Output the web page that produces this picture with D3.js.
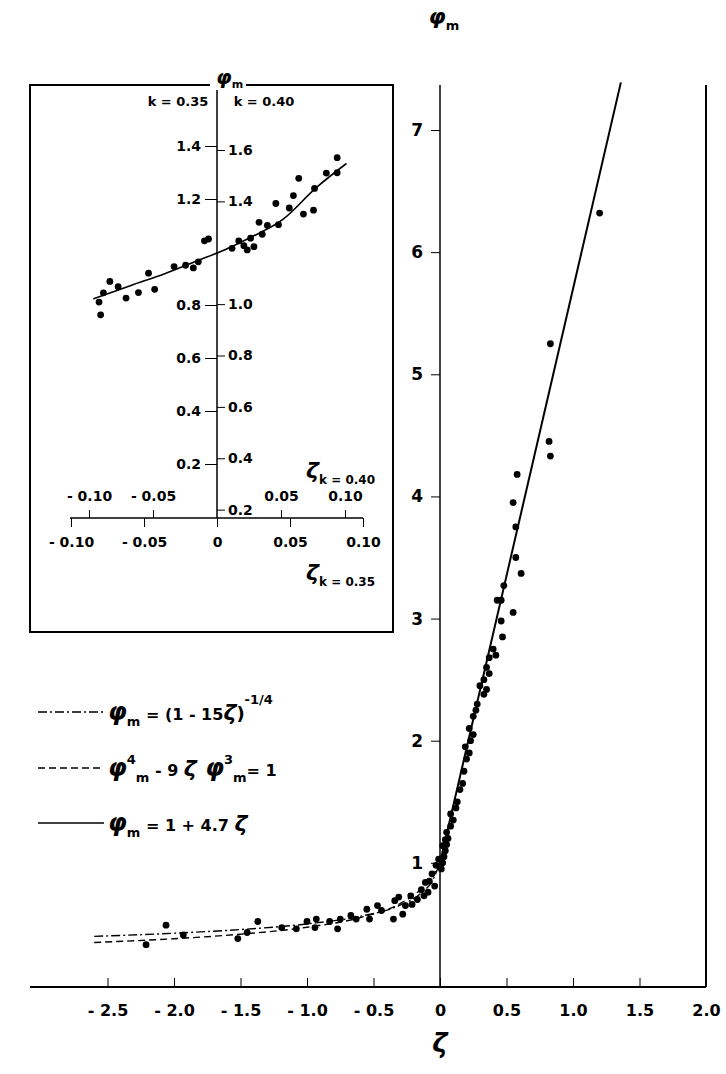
<!DOCTYPE html>
<html><head><meta charset="utf-8">
<script src="https://cdn.jsdelivr.net/npm/d3@7"></script>
<style>body{margin:0;background:#fff}text{font-family:"DejaVu Sans",sans-serif;fill:#000;font-weight:600}</style>
</head><body><svg id="vis-svg"></svg>
<script>
"use strict";

// main panel data (zeta, phi_m)
var mainXTicks = [-2.5, -2.0, -1.5, -1.0, -0.5, 0, 0.5, 1.0, 1.5, 2.0];
var mainYTicks = [1, 2, 3, 4, 5, 6, 7];
var mainPoints = [
	[1.2,6.32],[0.83,5.25],[0.82,4.45],[0.83,4.33],[0.58,4.18],[0.55,3.95],[0.57,3.75],[0.57,3.5],[0.61,3.37],
	[0.48,3.27],[0.46,3.15],[0.43,3.15],[0.46,2.98],[0.47,2.85],[0.42,2.7],[0.37,2.68],[0.37,2.55],[0.35,2.42],
	[0.33,2.38],[0.33,2.5],[0.3,2.45],[0.27,2.25],[0.25,2.2],[0.25,2.05],[0.23,2.0],[0.22,1.9],[0.2,1.85],
	[0.18,1.75],[0.17,1.65],[0.15,1.6],[0.13,1.5],[0.12,1.45],[0.1,1.35],[0.08,1.3],[0.06,1.2],[0.05,1.15],
	[0.04,1.1],[0.03,1.05],[0.02,1.0],[0.01,0.95],[0.05,1.25],[0.08,1.4],[0.19,1.95],[0.22,2.1],[0.28,2.3],
	[0.35,2.6],[0.4,2.75],[0.55,3.05],
	[-2.21,0.33],[-2.06,0.49],[-1.93,0.41],[-1.52,0.38],[-1.37,0.52],[-1.45,0.43],[-1.19,0.47],[-1.08,0.46],
	[-1.0,0.52],[-0.93,0.54],[-0.94,0.47],[-0.83,0.52],[-0.77,0.46],[-0.75,0.54],[-0.67,0.57],[-0.63,0.54],
	[-0.55,0.62],[-0.53,0.54],[-0.47,0.65],[-0.44,0.61],[-0.35,0.54],[-0.34,0.69],[-0.31,0.72],[-0.28,0.58],
	[-0.26,0.65],[-0.22,0.73],[-0.21,0.66],[-0.17,0.70],[-0.14,0.78],[-0.12,0.73],[-0.11,0.84],[-0.09,0.76],
	[-0.08,0.85],[-0.06,0.91],[-0.04,0.81],[-0.03,0.98],[-0.01,1.03],[0.02,1.14],[0.04,1.19]
];
var curveDashDot = [[-2.6,0.398],[-2.0,0.424],[-1.5,0.454],[-1.0,0.5],[-0.6,0.562],[-0.3,0.653],[-0.15,0.745],[-0.05,0.869],[0,1]];
var curveDashed = [[-2.6,0.348],[-2.0,0.379],[-1.5,0.416],[-1.0,0.473],[-0.6,0.552],[-0.3,0.667],[-0.15,0.778],[-0.05,0.904],[0,1]];
var curveSolid = [[0,1],[1.36,7.39]];

// inset data (zeta at k=0.35, phi_m at k=0.35)
var insetXTicks35 = [-0.10, -0.05, 0, 0.05, 0.10];
var insetXTicks40 = [-0.10, -0.05, 0.05, 0.10];
var insetYTicks35 = [0.2, 0.4, 0.6, 0.8, 1.2, 1.4];
var insetYTicks40 = [0.2, 0.4, 0.6, 0.8, 1.0, 1.4, 1.6];
var insetPoints = [
	[-0.0808,0.811],[-0.0797,0.763],[-0.0778,0.846],[-0.0734,0.889],[-0.0677,0.869],[-0.0623,0.826],[-0.0538,0.847],
	[-0.0469,0.920],[-0.0427,0.859],[-0.0294,0.945],[-0.0215,0.950],[-0.0162,0.940],[-0.0128,0.963],[-0.0086,1.042],
	[-0.0058,1.049],[0.0103,1.014],[0.0149,1.042],[0.0184,1.024],[0.0207,1.008],[0.0230,1.052],[0.0253,1.020],
	[0.0288,1.112],[0.0310,1.067],[0.0345,1.100],[0.0403,1.183],[0.0421,1.103],[0.0495,1.166],[0.0523,1.213],
	[0.0560,1.278],[0.0592,1.143],[0.0661,1.158],[0.0668,1.240],[0.0749,1.298],[0.0823,1.356],[0.0823,1.299]
];
var insetCurve = [[-0.0847,0.823],[-0.0589,0.874],[-0.0358,0.918],[-0.0127,0.969],[0.001,0.998],[0.0218,1.052],[0.0449,1.122],[0.068,1.243],[0.0887,1.334]];

var width = 726, height = 1074;
var svg = d3.select("#vis-svg").attr("width", width).attr("height", height);

var fmt = function (d) {
	if (d === 0) return "0";
	var s = Math.abs(d).toFixed(1);
	return d < 0 ? "- " + s : s;
};

// ---- main panel ----
var x = d3.scaleLinear().domain([0, 2]).range([440, 706]);
var y = d3.scaleLinear().domain([0, 7]).range([985, 130]);

var gx = svg.append("g").attr("transform", "translate(0,987)")
	.call(d3.axisBottom(x).tickValues(mainXTicks).tickFormat(fmt).tickSizeInner(-9).tickSizeOuter(0).tickPadding(18));
gx.select(".domain").attr("d", "M30,0H706").attr("stroke-width", 2);
gx.selectAll("text").attr("font-size", 16);
svg.append("text").attr("x", 440).attr("y", 1052).attr("text-anchor", "middle")
	.attr("font-size", 26).attr("font-style", "italic").text("ζ");

var gy = svg.append("g").attr("transform", "translate(440,0)")
	.call(d3.axisLeft(y).tickValues(mainYTicks).tickFormat(d3.format("d")).tickSize(9).tickPadding(8));
gy.select(".domain").attr("d", "M0,85V987").attr("stroke-width", 1.5);
gy.selectAll("text").attr("font-size", 17);
svg.append("text").attr("x", 444).attr("y", 24).attr("text-anchor", "middle")
	.attr("font-size", 22).attr("font-style", "italic").text("φ")
	.append("tspan").attr("font-size", 13).attr("font-style", "normal").attr("dy", 6).text("m");

svg.append("line").attr("x1", 706).attr("x2", 706).attr("y1", 85).attr("y2", 987)
	.attr("stroke", "#000").attr("stroke-width", 2);

var line = d3.line().x(function (d) { return x(d[0]); }).y(function (d) { return y(d[1]); }).curve(d3.curveMonotoneX);
svg.append("path").datum(curveDashDot).attr("d", line).attr("fill", "none").attr("stroke", "#000")
	.attr("stroke-width", 1.4).attr("stroke-dasharray", "9,3,2,3");
svg.append("path").datum(curveDashed).attr("d", line).attr("fill", "none").attr("stroke", "#000")
	.attr("stroke-width", 1.4).attr("stroke-dasharray", "7,4");
svg.append("path").datum(curveSolid).attr("d", line).attr("fill", "none").attr("stroke", "#000").attr("stroke-width", 2);

svg.append("g").selectAll("circle").data(mainPoints).enter().append("circle")
	.attr("cx", function (d) { return x(d[0]); }).attr("cy", function (d) { return y(d[1]); })
	.attr("r", 3.4).attr("fill", "#000");

// legend
var legend = [
	{dash: "9,3,2,3", y: 712, parts: [["φ", 24, 0, "italic"], ["m", 13, 6, "normal"], [" = (1 - 15", 16, -6, "normal"], ["ζ", 22, 0, "italic"], [")", 18, 0, "normal"], ["-1/4", 13, -16, "normal"]]},
	{dash: "7,4", y: 768, parts: [["φ", 24, 0, "italic"], ["4", 13, -12, "normal"], ["m", 13, 18, "normal"], [" - 9 ", 16, -6, "normal"], ["ζ", 22, 0, "italic"], [" φ", 24, 0, "italic"], ["3", 13, -12, "normal"], ["m", 13, 18, "normal"], ["= 1", 16, -6, "normal"]]},
	{dash: null, y: 823, parts: [["φ", 24, 0, "italic"], ["m", 13, 6, "normal"], [" = 1 + 4.7 ", 16, -6, "normal"], ["ζ", 22, 0, "italic"]]}
];
legend.forEach(function (l) {
	svg.append("line").attr("x1", 38).attr("x2", 104).attr("y1", l.y).attr("y2", l.y)
		.attr("stroke", "#000").attr("stroke-width", 1.5).attr("stroke-dasharray", l.dash);
	var t = svg.append("text").attr("x", 108).attr("y", l.y + 8);
	l.parts.forEach(function (p) {
		t.append("tspan").attr("font-size", p[1]).attr("dy", p[2]).attr("font-style", p[3]).text(p[0]);
	});
});

// ---- inset ----
svg.append("rect").attr("x", 30).attr("y", 85).attr("width", 363).attr("height", 547)
	.attr("fill", "#fff").attr("stroke", "#000").attr("stroke-width", 2);

var ix35 = d3.scaleLinear().domain([0, 0.1]).range([217, 363]);
var ix40 = d3.scaleLinear().domain([0, 0.1]).range([217, 345]);
var iy35 = d3.scaleLinear().domain([0, 1.4]).range([517, 146]);
var iy40 = d3.scaleLinear().domain([0, 1.6]).range([561, 150]);
var f2 = function (d) { return d === 0 ? "0" : (d < 0 ? "- " : "") + Math.abs(d).toFixed(2); };

var ib = svg.append("g").attr("transform", "translate(0,518)")
	.call(d3.axisBottom(ix35).tickValues(insetXTicks35).tickFormat(f2).tickSize(9).tickPadding(10));
ib.select(".domain").attr("d", "M70,0H363").attr("stroke-width", 1.5);
ib.selectAll("text").attr("font-size", 14);
var it = svg.append("g").attr("transform", "translate(0,518)")
	.call(d3.axisTop(ix40).tickValues(insetXTicks40).tickFormat(f2).tickSize(8).tickPadding(9));
it.select(".domain").remove();
it.selectAll("text").attr("font-size", 14);

var il = svg.append("g").attr("transform", "translate(217,0)")
	.call(d3.axisLeft(iy35).tickValues(insetYTicks35).tickFormat(d3.format(".1f")).tickSize(12).tickPadding(4));
il.select(".domain").attr("d", "M0,85V518").attr("stroke-width", 1.5);
il.selectAll("text").attr("font-size", 14);
var ir = svg.append("g").attr("transform", "translate(217,0)")
	.call(d3.axisRight(iy40).tickValues(insetYTicks40).tickFormat(d3.format(".1f")).tickSize(8).tickPadding(3));
ir.select(".domain").remove();
ir.selectAll("text").attr("font-size", 14);

svg.append("text").attr("x", 178).attr("y", 106).attr("text-anchor", "middle").attr("font-size", 13).text("k = 0.35");
svg.append("text").attr("x", 264).attr("y", 106).attr("text-anchor", "middle").attr("font-size", 13).text("k = 0.40");
svg.append("rect").attr("x", 210).attr("y", 70).attr("width", 36).attr("height", 20).attr("fill", "#fff");
svg.append("text").attr("x", 216).attr("y", 84).attr("font-size", 20).attr("font-style", "italic").text("φ")
	.append("tspan").attr("font-size", 11).attr("font-style", "normal").attr("dy", 4).text("m");

[["0.40", 478], ["0.35", 580]].forEach(function (k) {
	var t = svg.append("text").attr("x", 306).attr("y", k[1]);
	t.append("tspan").attr("font-size", 22).attr("font-style", "italic").text("ζ");
	t.append("tspan").attr("font-size", 12).attr("dy", 6).text("k = " + k[0]);
});

var iline = d3.line().x(function (d) { return ix35(d[0]); }).y(function (d) { return iy35(d[1]); }).curve(d3.curveMonotoneX);
svg.append("path").datum(insetCurve).attr("d", iline).attr("fill", "none").attr("stroke", "#000").attr("stroke-width", 1.6);
svg.append("g").selectAll("circle").data(insetPoints).enter().append("circle")
	.attr("cx", function (d) { return ix35(d[0]); }).attr("cy", function (d) { return iy35(d[1]); })
	.attr("r", 3.4).attr("fill", "#000");
</script></body></html>
